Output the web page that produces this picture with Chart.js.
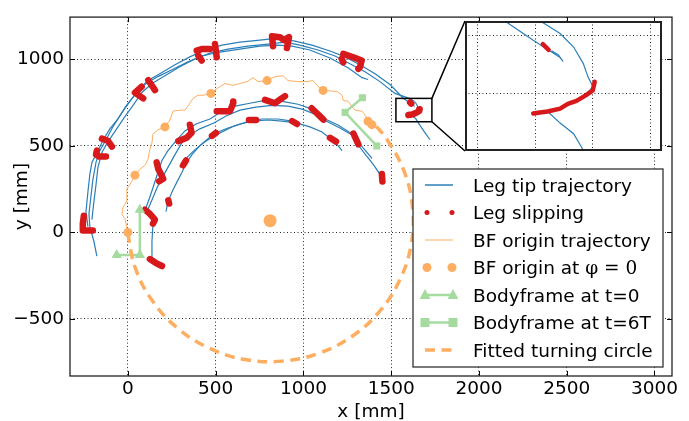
<!DOCTYPE html>
<html>
<head>
<meta charset="utf-8">
<script src="https://cdn.jsdelivr.net/npm/chart.js@4.4.0/dist/chart.umd.min.js"></script>
<style>
  body { margin: 0; background: #fff; }
  #wrap { position: relative; width: 689px; height: 421px; }
  #main { position: absolute; left: 0; top: 0; }
  #inset { position: absolute; left: 465px; top: 21px; }
</style>
</head>
<body>
<div id="wrap">
  <canvas id="main" width="689" height="421"></canvas>
  <canvas id="inset" width="197" height="130"></canvas>
</div>
<script>
// ticks
const xTickValues = [0, 500, 1000, 1500, 2000, 2500, 3000];
const yTickValues = [-500, 0, 500, 1000];

// zoomed region (inset) and its grid
const insetX = [1527, 1732];
const insetY = [640, 775];
const insetGridX = [1540, 1600, 1660, 1720];
const insetGridY = [700, 760];

// leg tip trajectories [x, y] in mm
const legTipOuter1 = [[-177,-137],[-194,-51],[-217,34],[-222,108],[-211,205],[-200,302],[-182,405],[-160,473],[-125,536],[-86,610],[-40,684],[11,758],[63,827],[114,878],[182,918],[268,969],[353,1015],[439,1055],[536,1083],[638,1100],[752,1112],[855,1123],[952,1106],[1049,1083],[1151,1049],[1237,1015],[1322,969],[1408,918],[1493,855],[1535,812],[1570,774],[1598,755],[1626,737],[1629,733],[1624,740],[1617,744]];
const legTipOuter2 = [[-205,74],[-194,177],[-182,274],[-171,376],[-148,462],[-114,524],[-68,593],[-23,661],[29,735],[80,809],[137,861],[211,906],[296,958],[382,1003],[467,1037],[570,1060],[684,1077],[798,1089],[895,1100],[980,1083],[1083,1055],[1180,1020],[1265,975],[1351,929],[1436,872],[1522,804],[1607,774],[1626,762],[1640,748],[1650,731],[1655,717],[1660,707],[1653,698],[1643,692],[1634,689],[1626,684],[1613,681],[1626,669],[1640,658],[1650,641],[1690,580],[1721,536]];
const legTipOuter3 = [[-228,34],[-239,120],[-228,234],[-217,336],[-205,405],[-171,473],[-137,542],[-103,599],[-57,656],[-11,730],[46,804],[103,861],[171,901],[251,941],[342,986],[422,1020],[524,1043],[638,1060],[752,1077],[855,1083],[935,1077],[1037,1055],[1151,1009],[1254,952],[1334,895],[1368,884]];
const legTipInner1 = [[194,-188],[137,-154],[137,-51],[143,51],[125,108],[103,143],[125,205],[148,274],[171,348],[194,416],[228,473],[274,530],[325,587],[388,627],[467,656],[536,701],[610,730],[695,747],[781,764],[878,758],[969,741],[1049,713],[1112,661],[1197,621],[1277,570],[1311,507],[1357,445],[1402,388],[1436,336],[1454,279]];
const legTipInner2 = [[108,120],[137,188],[165,257],[194,314],[228,376],[268,450],[308,519],[353,564],[410,599],[490,633],[559,673],[638,707],[730,724],[821,735],[912,730],[992,713],[1066,684],[1129,644],[1208,604],[1277,564],[1334,496],[1391,428]];
const legTipInner3 = [[217,120],[228,177],[251,234],[279,291],[308,348],[331,399],[365,450],[410,502],[456,542],[502,576],[570,604],[638,627],[713,644],[798,650],[878,644],[958,633],[1037,610],[1106,581],[1163,536],[1197,502],[1220,473]];
const legTipInner4 = [[296,376],[331,428],[382,479],[439,524],[513,570],[593,610],[673,638],[764,656],[855,656],[935,644]];
const legTipTrajectories = [legTipOuter1, legTipOuter2, legTipOuter3, legTipInner1, legTipInner2, legTipInner3, legTipInner4];

// slipping stretches of the leg tips
const legSlipping = [
  [[-251,97],[-257,51],[-257,11],[-228,11],[-200,11]],
  [[-148,542],[-114,530],[-91,496]],
  [[-177,473],[-182,450],[-165,439],[-125,439]],
  [[78,842],[40,808],[87,775]],
  [[116,880],[154,823]],
  [[392,1051],[420,1060],[467,1060]],
  [[401,1022],[420,994]],
  [[496,1089],[506,1013]],
  [[827,1077],[821,1134],[866,1129],[889,1112],[918,1129],[906,1066]],
  [[1227,1032],[1284,1013],[1332,994],[1322,956],[1313,946]],
  [[1218,1003],[1227,984]],
  [[1608,751],[1614,745]],
  [[1662,712],[1660,703],[1653,698],[1643,692],[1634,689],[1626,684],[1613,681],[1605,680],[1598,679]],
  [[125,-154],[160,-177],[194,-194]],
  [[97,131],[125,108],[154,74],[143,51]],
  [[164,405],[173,367],[192,329],[201,310],[178,296]],
  [[353,623],[363,576],[335,547],[287,528]],
  [[506,700],[581,700],[600,747],[600,757]],
  [[781,766],[838,747],[876,775],[895,788]],
  [[1047,718],[1114,652]],
  [[1285,572],[1313,509]],
  [[1447,338],[1450,295]],
  [[230,186],[235,167]],
  [[314,388],[331,416]],
  [[479,559],[502,576]],
  [[690,650],[730,650]],
  [[935,644],[964,627]],
  [[1151,547],[1186,525]]
];

// body frame origin
const bfOriginPath = [[0,0],[-17,80],[-34,103],[-29,143],[-6,182],[-6,251],[6,268],[23,296],[40,331],[68,365],[97,388],[114,422],[125,479],[137,519],[143,570],[171,593],[211,610],[239,650],[257,701],[296,707],[325,707],[342,730],[371,775],[399,793],[428,793],[473,804],[507,832],[553,861],[599,850],[638,861],[679,872],[713,895],[741,872],[793,878],[838,901],[884,906],[912,878],[964,872],[1020,872],[1055,878],[1083,844],[1112,821],[1192,815],[1220,793],[1226,764],[1254,758],[1294,707],[1334,701],[1351,679],[1368,644]];
const bfOriginPhi0 = [[0,0],[40,331],[211,610],[473,804],[793,878],[1112,821],[1368,643],[1390,623]];
const turningCentre = [[810,68]];

// body frames
const bodyframeT0 = [[68,131],[68,-131],[-64,-131]];
const bodyframeT6 = [[1336,779],[1237,694],[1418,500]];

// fitted turning circle, read along the dashed arc
const fittedCircle = [[-2,-3],[44,-211],[143,-400],[286,-556],[465,-670],[668,-735],[881,-744],[1089,-698],[1278,-600],[1434,-456],[1548,-277],[1613,-74],[1622,139],[1576,347],[1477,536],[1400,630]];

const BLUE = '#2b7fb8', RED = '#d7191c', ORANGE = '#fdae61', GREEN = '#a6dba0';
const FONT = '"DejaVu Sans", sans-serif';
const FS = 18.5;
const tickFont = { family: FONT, size: FS };

const pts = arr => arr.map(([x, y]) => ({ x, y }));
const minus = v => v < 0 ? '\u2212' + Math.abs(v) : String(v);

function legDatasets(slipWidth) {
  const sets = [];
  legTipTrajectories.forEach(t => sets.push({
    data: pts(t), showLine: true, borderColor: BLUE, borderWidth: 1.2,
    pointRadius: 0, order: 6
  }));
  legSlipping.forEach(s => sets.push({
    data: pts(s), showLine: true, borderColor: RED, borderWidth: slipWidth,
    borderCapStyle: 'round', borderJoinStyle: 'round', pointRadius: 0, order: 5
  }));
  return sets;
}

const legendRows = [
  { label: 'Leg tip trajectory', kind: 'line', color: BLUE, width: 1.5 },
  { label: 'Leg slipping', kind: 'dots', color: RED, r: 2.5 },
  { label: 'BF origin trajectory', kind: 'line', color: ORANGE, width: 1 },
  { label: 'BF origin at ', math: '\u03c6 = 0', kind: 'dots', color: ORANGE, r: 4.5 },
  { label: 'Bodyframe at t=0', kind: 'marker', color: GREEN, marker: 'triangle' },
  { label: 'Bodyframe at t=6T', kind: 'marker', color: GREEN, marker: 'rect' },
  { label: 'Fitted turning circle', kind: 'dash', color: ORANGE }
];

function drawMarker(ctx, type, x, y) {
  ctx.beginPath();
  if (type === 'triangle') {
    ctx.moveTo(x, y - 6); ctx.lineTo(x + 5.5, y + 4); ctx.lineTo(x - 5.5, y + 4);
    ctx.closePath();
  } else {
    ctx.rect(x - 4.5, y - 4.5, 9, 9);
  }
  ctx.fill();
}

function drawLegend(ctx) {
  const bx = 413, by = 169, bw = 250, bh = 198;
  ctx.fillStyle = '#fff';
  ctx.fillRect(bx, by, bw, bh);
  ctx.lineWidth = 1.3; ctx.strokeStyle = '#333';
  ctx.strokeRect(bx, by, bw, bh);
  const x0 = 425, x1 = 453, tx = 473;
  legendRows.forEach((row, i) => {
    const y = 185 + i * 27.5;
    ctx.save();
    ctx.strokeStyle = row.color; ctx.fillStyle = row.color;
    if (row.kind === 'line') {
      ctx.lineWidth = row.width;
      ctx.beginPath(); ctx.moveTo(x0, y); ctx.lineTo(x1, y); ctx.stroke();
    } else if (row.kind === 'dots') {
      [x0 + 2, x1 - 1].forEach(px => { ctx.beginPath(); ctx.arc(px, y, row.r, 0, Math.PI * 2); ctx.fill(); });
    } else if (row.kind === 'marker') {
      ctx.lineWidth = 2.5;
      ctx.beginPath(); ctx.moveTo(x0, y); ctx.lineTo(x1, y); ctx.stroke();
      drawMarker(ctx, row.marker, x0, y); drawMarker(ctx, row.marker, x1, y);
    } else if (row.kind === 'dash') {
      ctx.lineWidth = 3.5; ctx.setLineDash([10, 6.5]);
      ctx.beginPath(); ctx.moveTo(x0, y); ctx.lineTo(x1, y); ctx.stroke();
    }
    ctx.restore();
    ctx.fillStyle = '#000';
    ctx.textBaseline = 'alphabetic';
    ctx.font = FS + 'px ' + FONT;
    ctx.fillText(row.label, tx, y + 6.7);
    if (row.math) {
      const w = ctx.measureText(row.label).width;
      ctx.font = FS + 'px "DejaVu Serif", serif';
      ctx.fillText(row.math, tx + w, y + 6.7);
    }
  });
}

const INSET_LEFT = 465, INSET_TOP = 21, INSET_W = 197, INSET_H = 130;

const framePlugin = {
  id: 'frame',
  afterDraw(chart) {
    const { ctx, chartArea: a, scales: { x, y } } = chart;
    ctx.save();
    ctx.strokeStyle = '#000'; ctx.lineWidth = 1;
    ctx.beginPath();
    xTickValues.forEach(v => {
      const p = Math.round(x.getPixelForValue(v)) + 0.5;
      ctx.moveTo(p, a.bottom); ctx.lineTo(p, a.bottom - 5);
      ctx.moveTo(p, a.top); ctx.lineTo(p, a.top + 5);
    });
    yTickValues.forEach(v => {
      const p = Math.round(y.getPixelForValue(v)) + 0.5;
      ctx.moveTo(a.left, p); ctx.lineTo(a.left + 5, p);
      ctx.moveTo(a.right, p); ctx.lineTo(a.right - 5, p);
    });
    ctx.stroke();
    ctx.lineWidth = 1.3; ctx.strokeStyle = '#222';
    ctx.strokeRect(a.left, a.top, a.right - a.left, a.bottom - a.top);

    // zoom box and connectors
    const l = x.getPixelForValue(insetX[0]), r = x.getPixelForValue(insetX[1]);
    const t = y.getPixelForValue(insetY[1]), b = y.getPixelForValue(insetY[0]);
    ctx.lineWidth = 1.5; ctx.strokeStyle = '#000';
    ctx.strokeRect(l, t, r - l, b - t);
    ctx.beginPath();
    ctx.moveTo(r, t); ctx.lineTo(INSET_LEFT, INSET_TOP);
    ctx.moveTo(r, b); ctx.lineTo(INSET_LEFT, INSET_TOP + INSET_H);
    ctx.stroke();

    drawLegend(ctx);
    ctx.restore();
  }
};

const gridOpts = { color: 'rgba(0,0,0,0.85)', lineWidth: 1, drawTicks: false };
const borderOpts = { display: false, dash: [1, 2.5] };

new Chart(document.getElementById('main'), {
  type: 'scatter',
  data: {
    datasets: [
      ...legDatasets(6.5),
      { data: pts(bfOriginPath), showLine: true, borderColor: ORANGE, borderWidth: 1, pointRadius: 0, order: 4 },
      { data: pts(bfOriginPhi0), showLine: false, pointRadius: 4.5, backgroundColor: ORANGE, borderWidth: 0, order: 3 },
      { data: pts(turningCentre), showLine: false, pointRadius: 6.5, backgroundColor: ORANGE, borderWidth: 0, order: 3 },
      { data: pts(bodyframeT0), showLine: true, borderColor: GREEN, borderWidth: 2.5, pointStyle: 'triangle',
        pointRadius: 6, pointBackgroundColor: GREEN, pointBorderColor: GREEN, pointBorderWidth: 0, order: 2 },
      { data: pts(bodyframeT6), showLine: true, borderColor: GREEN, borderWidth: 2.5, pointStyle: 'rect',
        pointRadius: 5, pointBackgroundColor: GREEN, pointBorderColor: GREEN, pointBorderWidth: 0, order: 2 },
      { data: pts(fittedCircle), showLine: true, borderColor: ORANGE, borderWidth: 3.5, borderDash: [10, 6.5],
        tension: 0.4, pointRadius: 0, order: 1 }
    ]
  },
  options: {
    responsive: false,
    animation: false,
    events: [],
    layout: { padding: { left: 0, top: 13, right: 17, bottom: 0 } },
    plugins: { legend: { display: false }, tooltip: { enabled: false } },
    scales: {
      x: {
        type: 'linear', min: -330, max: 3100,
        afterBuildTicks: s => { s.ticks = xTickValues.map(v => ({ value: v })); },
        afterFit: s => { s.height = 45; },
        grid: gridOpts, border: borderOpts,
        ticks: { font: tickFont, color: '#000', padding: 2, maxRotation: 0, autoSkip: false, callback: minus },
        title: { display: true, text: 'x [mm]', color: '#000', font: { family: FONT, size: FS, lineHeight: 1 }, padding: 0 }
      },
      y: {
        type: 'linear', min: -830, max: 1245,
        afterBuildTicks: s => { s.ticks = yTickValues.map(v => ({ value: v })); },
        afterFit: s => { s.width = 70; },
        grid: gridOpts, border: borderOpts,
        ticks: { font: tickFont, color: '#000', padding: 6, autoSkip: false, callback: minus },
        title: { display: true, text: 'y [mm]', color: '#000', font: { family: FONT, size: FS, lineHeight: 1 }, padding: { top: 13 } }
      }
    }
  },
  plugins: [framePlugin]
});

// inset: zoom on the outer leg slipping
const insetFrame = {
  id: 'insetFrame',
  beforeDraw(chart) {
    const { ctx } = chart;
    ctx.save(); ctx.fillStyle = '#fff'; ctx.fillRect(0, 0, INSET_W, INSET_H); ctx.restore();
  },
  afterDraw(chart) {
    const { ctx } = chart;
    ctx.save(); ctx.lineWidth = 2; ctx.strokeStyle = '#222';
    ctx.strokeRect(1, 1, INSET_W - 2, INSET_H - 2); ctx.restore();
  }
};

new Chart(document.getElementById('inset'), {
  type: 'scatter',
  data: { datasets: legDatasets(4.5) },
  options: {
    responsive: false,
    animation: false,
    events: [],
    layout: { padding: 0 },
    plugins: { legend: { display: false }, tooltip: { enabled: false } },
    scales: {
      x: {
        type: 'linear', min: insetX[0], max: insetX[1],
        afterBuildTicks: s => { s.ticks = insetGridX.map(v => ({ value: v })); },
        afterFit: s => { s.height = 0; },
        ticks: { display: false }, grid: gridOpts, border: borderOpts
      },
      y: {
        type: 'linear', min: insetY[0], max: insetY[1],
        afterBuildTicks: s => { s.ticks = insetGridY.map(v => ({ value: v })); },
        afterFit: s => { s.width = 0; },
        ticks: { display: false }, grid: gridOpts, border: borderOpts
      }
    }
  },
  plugins: [insetFrame]
});
</script>
</body>
</html>
